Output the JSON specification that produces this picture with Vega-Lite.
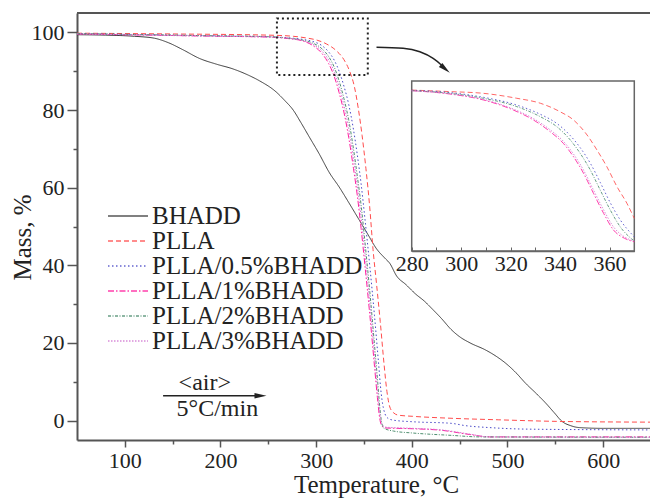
{
  "$schema": "https://vega.github.io/schema/vega-lite/v6.json",
  "width": 573,
  "height": 427,
  "autosize": {"type": "none"},
  "padding": {"left": 77, "top": 13, "right": 0, "bottom": 59},
  "background": "white",
  "config": {
    "view": {"stroke": null},
    "font": "Liberation Serif",
    "axis": {
      "labelFont": "Liberation Serif",
      "titleFont": "Liberation Serif",
      "labelColor": "#222",
      "titleColor": "#222",
      "titleFontWeight": "normal",
      "domainColor": "#555",
      "domainWidth": 2,
      "tickColor": "#555",
      "tickWidth": 1.5,
      "grid": false,
      "labelFontSize": 22,
      "titleFontSize": 25,
      "labelOverlap": false,
      "labelFlush": false
    }
  },
  "datasets": {
    "main": [
      {"s":"BHADD","T":50,"m":99.4},{"s":"BHADD","T":80,"m":99.3},{"s":"BHADD","T":110,"m":99.0},{"s":"BHADD","T":131,"m":98.5},{"s":"BHADD","T":146,"m":97.3},{"s":"BHADD","T":161,"m":95.5},{"s":"BHADD","T":178,"m":93.3},{"s":"BHADD","T":196,"m":91.8},{"s":"BHADD","T":213,"m":90.6},{"s":"BHADD","T":229,"m":89.0},{"s":"BHADD","T":241,"m":87.5},{"s":"BHADD","T":258,"m":84.7},{"s":"BHADD","T":267,"m":82.5},{"s":"BHADD","T":276,"m":80.0},{"s":"BHADD","T":284,"m":76.8},{"s":"BHADD","T":293,"m":73.0},{"s":"BHADD","T":303,"m":68.8},{"s":"BHADD","T":314,"m":63.8},{"s":"BHADD","T":324,"m":60.2},{"s":"BHADD","T":335,"m":55.8},{"s":"BHADD","T":345,"m":51.7},{"s":"BHADD","T":354,"m":48.0},{"s":"BHADD","T":363,"m":44.3},{"s":"BHADD","T":372,"m":41.8},{"s":"BHADD","T":377,"m":40.5},{"s":"BHADD","T":384,"m":37.3},{"s":"BHADD","T":394,"m":35.0},{"s":"BHADD","T":404,"m":32.6},{"s":"BHADD","T":413,"m":30.8},{"s":"BHADD","T":422,"m":28.6},{"s":"BHADD","T":431,"m":26.3},{"s":"BHADD","T":441,"m":23.5},{"s":"BHADD","T":450,"m":21.6},{"s":"BHADD","T":461,"m":20.0},{"s":"BHADD","T":477,"m":18.2},{"s":"BHADD","T":488,"m":16.6},{"s":"BHADD","T":498,"m":14.8},{"s":"BHADD","T":509,"m":12.3},{"s":"BHADD","T":519,"m":9.6},{"s":"BHADD","T":530,"m":7.0},{"s":"BHADD","T":540,"m":4.5},{"s":"BHADD","T":549,"m":2.0},{"s":"BHADD","T":557,"m":-0.2},{"s":"BHADD","T":566,"m":-1.3},{"s":"BHADD","T":575,"m":-1.8},{"s":"BHADD","T":600,"m":-2.0},{"s":"BHADD","T":649,"m":-2.0},

      {"s":"PLLA","T":50,"m":99.8},{"s":"PLLA","T":150,"m":99.6},{"s":"PLLA","T":250,"m":99.3},{"s":"PLLA","T":276,"m":99.0},{"s":"PLLA","T":289,"m":98.6},{"s":"PLLA","T":301,"m":98.0},{"s":"PLLA","T":311,"m":97.0},{"s":"PLLA","T":321,"m":95.3},{"s":"PLLA","T":329,"m":93.0},{"s":"PLLA","T":335,"m":90.0},{"s":"PLLA","T":340,"m":86.0},{"s":"PLLA","T":344,"m":80.5},{"s":"PLLA","T":348,"m":73.5},{"s":"PLLA","T":352,"m":65.0},{"s":"PLLA","T":356,"m":55.0},{"s":"PLLA","T":359.5,"m":44.0},{"s":"PLLA","T":363,"m":35.5},{"s":"PLLA","T":367,"m":25.5},{"s":"PLLA","T":371,"m":14.5},{"s":"PLLA","T":374,"m":7.5},{"s":"PLLA","T":377,"m":3.5},{"s":"PLLA","T":381,"m":2.0},{"s":"PLLA","T":386,"m":1.4},{"s":"PLLA","T":401,"m":1.1},{"s":"PLLA","T":441,"m":0.6},{"s":"PLLA","T":491,"m":0.2},{"s":"PLLA","T":551,"m":-0.2},{"s":"PLLA","T":649,"m":-0.4},

      {"s":"PLLA/0.5%BHADD","T":50,"m":99.7},{"s":"PLLA/0.5%BHADD","T":100,"m":99.5},{"s":"PLLA/0.5%BHADD","T":150,"m":99.3},{"s":"PLLA/0.5%BHADD","T":200,"m":99.1},{"s":"PLLA/0.5%BHADD","T":250,"m":98.9},{"s":"PLLA/0.5%BHADD","T":271,"m":98.6},{"s":"PLLA/0.5%BHADD","T":286,"m":98.2},{"s":"PLLA/0.5%BHADD","T":296,"m":97.7},{"s":"PLLA/0.5%BHADD","T":306,"m":96.6},{"s":"PLLA/0.5%BHADD","T":313,"m":95.0},{"s":"PLLA/0.5%BHADD","T":319,"m":92.8},{"s":"PLLA/0.5%BHADD","T":324,"m":90.0},{"s":"PLLA/0.5%BHADD","T":329,"m":86.2},{"s":"PLLA/0.5%BHADD","T":334,"m":81.5},{"s":"PLLA/0.5%BHADD","T":339,"m":75.0},{"s":"PLLA/0.5%BHADD","T":343,"m":68.5},{"s":"PLLA/0.5%BHADD","T":347,"m":61.0},{"s":"PLLA/0.5%BHADD","T":351,"m":52.0},{"s":"PLLA/0.5%BHADD","T":356,"m":40.0},{"s":"PLLA/0.5%BHADD","T":361,"m":27.0},{"s":"PLLA/0.5%BHADD","T":365,"m":15.5},{"s":"PLLA/0.5%BHADD","T":368,"m":7.0},{"s":"PLLA/0.5%BHADD","T":371,"m":2.5},{"s":"PLLA/0.5%BHADD","T":375,"m":0.6},{"s":"PLLA/0.5%BHADD","T":381,"m":0.1},{"s":"PLLA/0.5%BHADD","T":401,"m":-0.3},{"s":"PLLA/0.5%BHADD","T":441,"m":-0.7},{"s":"PLLA/0.5%BHADD","T":456,"m":-1.3},{"s":"PLLA/0.5%BHADD","T":481,"m":-1.8},{"s":"PLLA/0.5%BHADD","T":521,"m":-2.2},{"s":"PLLA/0.5%BHADD","T":649,"m":-2.4},

      {"s":"PLLA/1%BHADD","T":50,"m":99.6},{"s":"PLLA/1%BHADD","T":100,"m":99.4},{"s":"PLLA/1%BHADD","T":150,"m":99.2},{"s":"PLLA/1%BHADD","T":200,"m":99.0},{"s":"PLLA/1%BHADD","T":250,"m":98.8},{"s":"PLLA/1%BHADD","T":271,"m":98.4},{"s":"PLLA/1%BHADD","T":286,"m":97.8},{"s":"PLLA/1%BHADD","T":296,"m":96.7},{"s":"PLLA/1%BHADD","T":306,"m":94.6},{"s":"PLLA/1%BHADD","T":313,"m":92.0},{"s":"PLLA/1%BHADD","T":319,"m":88.6},{"s":"PLLA/1%BHADD","T":324,"m":84.5},{"s":"PLLA/1%BHADD","T":329,"m":79.5},{"s":"PLLA/1%BHADD","T":334,"m":73.0},{"s":"PLLA/1%BHADD","T":339,"m":65.0},{"s":"PLLA/1%BHADD","T":343,"m":58.0},{"s":"PLLA/1%BHADD","T":347,"m":49.5},{"s":"PLLA/1%BHADD","T":351,"m":40.0},{"s":"PLLA/1%BHADD","T":356,"m":27.5},{"s":"PLLA/1%BHADD","T":361,"m":14.0},{"s":"PLLA/1%BHADD","T":364,"m":6.0},{"s":"PLLA/1%BHADD","T":366.5,"m":0.5},{"s":"PLLA/1%BHADD","T":369,"m":-1.5},{"s":"PLLA/1%BHADD","T":373,"m":-1.9},{"s":"PLLA/1%BHADD","T":401,"m":-2.1},{"s":"PLLA/1%BHADD","T":431,"m":-2.5},{"s":"PLLA/1%BHADD","T":461,"m":-3.6},{"s":"PLLA/1%BHADD","T":481,"m":-4.2},{"s":"PLLA/1%BHADD","T":649,"m":-4.2},

      {"s":"PLLA/2%BHADD","T":50,"m":99.7},{"s":"PLLA/2%BHADD","T":100,"m":99.5},{"s":"PLLA/2%BHADD","T":150,"m":99.3},{"s":"PLLA/2%BHADD","T":200,"m":99.1},{"s":"PLLA/2%BHADD","T":250,"m":98.9},{"s":"PLLA/2%BHADD","T":271,"m":98.5},{"s":"PLLA/2%BHADD","T":286,"m":98.0},{"s":"PLLA/2%BHADD","T":296,"m":97.3},{"s":"PLLA/2%BHADD","T":306,"m":95.8},{"s":"PLLA/2%BHADD","T":313,"m":93.8},{"s":"PLLA/2%BHADD","T":319,"m":91.0},{"s":"PLLA/2%BHADD","T":324,"m":87.5},{"s":"PLLA/2%BHADD","T":329,"m":83.0},{"s":"PLLA/2%BHADD","T":334,"m":77.5},{"s":"PLLA/2%BHADD","T":339,"m":70.0},{"s":"PLLA/2%BHADD","T":343,"m":63.0},{"s":"PLLA/2%BHADD","T":347,"m":55.5},{"s":"PLLA/2%BHADD","T":351,"m":46.0},{"s":"PLLA/2%BHADD","T":356,"m":33.5},{"s":"PLLA/2%BHADD","T":361,"m":19.5},{"s":"PLLA/2%BHADD","T":364,"m":11.0},{"s":"PLLA/2%BHADD","T":366.5,"m":3.5},{"s":"PLLA/2%BHADD","T":368.5,"m":-0.5},{"s":"PLLA/2%BHADD","T":371,"m":-2.0},{"s":"PLLA/2%BHADD","T":381,"m":-2.7},{"s":"PLLA/2%BHADD","T":401,"m":-3.2},{"s":"PLLA/2%BHADD","T":441,"m":-3.8},{"s":"PLLA/2%BHADD","T":471,"m":-4.2},{"s":"PLLA/2%BHADD","T":649,"m":-4.3},

      {"s":"PLLA/3%BHADD","T":50,"m":99.6},{"s":"PLLA/3%BHADD","T":100,"m":99.4},{"s":"PLLA/3%BHADD","T":150,"m":99.2},{"s":"PLLA/3%BHADD","T":200,"m":99.0},{"s":"PLLA/3%BHADD","T":250,"m":98.8},{"s":"PLLA/3%BHADD","T":271,"m":98.5},{"s":"PLLA/3%BHADD","T":286,"m":97.9},{"s":"PLLA/3%BHADD","T":296,"m":97.0},{"s":"PLLA/3%BHADD","T":306,"m":95.2},{"s":"PLLA/3%BHADD","T":313,"m":92.9},{"s":"PLLA/3%BHADD","T":319,"m":89.8},{"s":"PLLA/3%BHADD","T":324,"m":86.0},{"s":"PLLA/3%BHADD","T":329,"m":81.3},{"s":"PLLA/3%BHADD","T":334,"m":75.3},{"s":"PLLA/3%BHADD","T":339,"m":67.5},{"s":"PLLA/3%BHADD","T":343,"m":60.5},{"s":"PLLA/3%BHADD","T":347,"m":52.5},{"s":"PLLA/3%BHADD","T":351,"m":43.0},{"s":"PLLA/3%BHADD","T":356,"m":30.5},{"s":"PLLA/3%BHADD","T":361,"m":16.8},{"s":"PLLA/3%BHADD","T":364,"m":8.5},{"s":"PLLA/3%BHADD","T":366.5,"m":2.0},{"s":"PLLA/3%BHADD","T":369,"m":-1.0},{"s":"PLLA/3%BHADD","T":373,"m":-1.7},{"s":"PLLA/3%BHADD","T":401,"m":-2.0},{"s":"PLLA/3%BHADD","T":431,"m":-2.4},{"s":"PLLA/3%BHADD","T":461,"m":-3.5},{"s":"PLLA/3%BHADD","T":481,"m":-4.2},{"s":"PLLA/3%BHADD","T":649,"m":-4.3}
    ],
    "inset": [
      {"s":"PLLA","T":280,"m":99.36},{"s":"PLLA","T":295.5,"m":99.25},{"s":"PLLA","T":309,"m":99.13},{"s":"PLLA","T":322.5,"m":98.78},{"s":"PLLA","T":332,"m":98.43},{"s":"PLLA","T":340,"m":97.83},{"s":"PLLA","T":345.4,"m":97.25},{"s":"PLLA","T":350.9,"m":96.19},{"s":"PLLA","T":354.9,"m":95.13},{"s":"PLLA","T":358.9,"m":93.95},{"s":"PLLA","T":363,"m":92.54},{"s":"PLLA","T":367,"m":91.37},{"s":"PLLA","T":370,"m":90.3},

      {"s":"PLLA/0.5%BHADD","T":280,"m":99.35},{"s":"PLLA/0.5%BHADD","T":295.5,"m":99.18},{"s":"PLLA/0.5%BHADD","T":309,"m":98.85},{"s":"PLLA/0.5%BHADD","T":322.5,"m":98.3},{"s":"PLLA/0.5%BHADD","T":332,"m":97.65},{"s":"PLLA/0.5%BHADD","T":338.7,"m":97.0},{"s":"PLLA/0.5%BHADD","T":344.1,"m":96.15},{"s":"PLLA/0.5%BHADD","T":348.1,"m":95.3},{"s":"PLLA/0.5%BHADD","T":352.2,"m":94.2},{"s":"PLLA/0.5%BHADD","T":356.2,"m":92.85},{"s":"PLLA/0.5%BHADD","T":360.3,"m":91.4},{"s":"PLLA/0.5%BHADD","T":364.3,"m":90.2},{"s":"PLLA/0.5%BHADD","T":370,"m":89.0},

      {"s":"PLLA/1%BHADD","T":280,"m":99.32},{"s":"PLLA/1%BHADD","T":295.5,"m":99.08},{"s":"PLLA/1%BHADD","T":309,"m":98.66},{"s":"PLLA/1%BHADD","T":321.1,"m":97.95},{"s":"PLLA/1%BHADD","T":329.2,"m":97.25},{"s":"PLLA/1%BHADD","T":336,"m":96.42},{"s":"PLLA/1%BHADD","T":341.3,"m":95.6},{"s":"PLLA/1%BHADD","T":345.4,"m":94.66},{"s":"PLLA/1%BHADD","T":349.5,"m":93.48},{"s":"PLLA/1%BHADD","T":353.5,"m":92.07},{"s":"PLLA/1%BHADD","T":357.6,"m":90.66},{"s":"PLLA/1%BHADD","T":361.6,"m":89.48},{"s":"PLLA/1%BHADD","T":366,"m":88.9},{"s":"PLLA/1%BHADD","T":370,"m":88.65},

      {"s":"PLLA/2%BHADD","T":280,"m":99.32},{"s":"PLLA/2%BHADD","T":295.5,"m":99.13},{"s":"PLLA/2%BHADD","T":309,"m":98.78},{"s":"PLLA/2%BHADD","T":322.5,"m":98.19},{"s":"PLLA/2%BHADD","T":332,"m":97.48},{"s":"PLLA/2%BHADD","T":338.7,"m":96.77},{"s":"PLLA/2%BHADD","T":344.1,"m":95.84},{"s":"PLLA/2%BHADD","T":348.1,"m":94.9},{"s":"PLLA/2%BHADD","T":352.2,"m":93.72},{"s":"PLLA/2%BHADD","T":356.2,"m":92.31},{"s":"PLLA/2%BHADD","T":360.3,"m":90.89},{"s":"PLLA/2%BHADD","T":364.3,"m":89.71},{"s":"PLLA/2%BHADD","T":370,"m":88.7},

      {"s":"PLLA/3%BHADD","T":280,"m":99.3},{"s":"PLLA/3%BHADD","T":295.5,"m":99.1},{"s":"PLLA/3%BHADD","T":309,"m":98.7},{"s":"PLLA/3%BHADD","T":321.1,"m":98.02},{"s":"PLLA/3%BHADD","T":329.2,"m":97.35},{"s":"PLLA/3%BHADD","T":336,"m":96.55},{"s":"PLLA/3%BHADD","T":341.3,"m":95.75},{"s":"PLLA/3%BHADD","T":345.4,"m":94.85},{"s":"PLLA/3%BHADD","T":349.5,"m":93.7},{"s":"PLLA/3%BHADD","T":353.5,"m":92.3},{"s":"PLLA/3%BHADD","T":357.6,"m":90.9},{"s":"PLLA/3%BHADD","T":361.6,"m":89.7},{"s":"PLLA/3%BHADD","T":366,"m":89.0},{"s":"PLLA/3%BHADD","T":370,"m":88.7}
    ],
    "arrow": [
      {"T":363.1,"m":96.16},{"T":390.9,"m":95.9},{"T":408.4,"m":95.0},{"T":422.3,"m":93.3},{"T":430,"m":91.8},{"T":435,"m":90.6}
    ]
  },
  "layer": [
    {
      "layer": [
        {
          "data": {"name": "main"},
          "mark": {"type": "line", "interpolate": "monotone", "strokeWidth": 1},
          "encoding": {
            "x": {
              "field": "T", "type": "quantitative",
              "scale": {"domain": [50, 649], "nice": false, "zero": false},
              "axis": {
                "orient": "bottom",
                "title": "Temperature, °C",
                "values": [100,150,200,250,300,350,400,450,500,550,600],
                "labelExpr": "datum.value % 100 === 0 ? datum.label : ''",
                "tickSize": {"condition": {"test": "datum.value % 100 === 0", "value": 7}, "value": 4},
                "labelPadding": 3,
                "titleX": 299,
                "titleY": 52,
                "titleBaseline": "alphabetic",
                "titleAlign": "center"
              }
            },
            "y": {
              "field": "m", "type": "quantitative",
              "scale": {"domain": [-5, 105], "nice": false, "zero": false},
              "axis": {
                "title": "Mass, %",
                "values": [0,10,20,30,40,50,60,70,80,90,100],
                "labelExpr": "datum.value % 20 === 0 ? datum.label : ''",
                "tickSize": {"condition": {"test": "datum.value % 20 === 0", "value": 10}, "value": 4},
                "labelPadding": 3,
                "titleX": -47,
                "titleY": 224,
                "titleBaseline": "alphabetic",
                "titleAlign": "center",
                "titleAngle": -90
              }
            },
            "color": {
              "field": "s", "type": "nominal",
              "scale": {
                "domain": ["BHADD","PLLA","PLLA/0.5%BHADD","PLLA/1%BHADD","PLLA/2%BHADD","PLLA/3%BHADD"],
                "range": ["#3a3a3a","#ff4c4c","#4a4ac8","#ff1f9f","#4f8f70","#d27ad2"]
              },
              "legend": {"title": null, "orient": "none", "legendX": 30, "legendY": 192, "symbolType": "stroke", "symbolSize": 1600, "symbolStrokeWidth": 1.3, "clipHeight": 22, "rowPadding": 0, "padding": 0, "labelFont": "Liberation Serif", "labelFontSize": 25, "labelColor": "#222", "labelOffset": 3, "labelLimit": 400}
            },
            "strokeDash": {
              "field": "s", "type": "nominal",
              "scale": {
                "domain": ["BHADD","PLLA","PLLA/0.5%BHADD","PLLA/1%BHADD","PLLA/2%BHADD","PLLA/3%BHADD"],
                "range": [[1,0],[5,3],[1.5,2.5],[6,2,1.5,2],[3,1.5,1,1.5],[1.5,1.5]]
              },
              "legend": {"title": null, "orient": "none", "legendX": 30, "legendY": 192, "symbolType": "stroke", "symbolSize": 1600, "symbolStrokeWidth": 1.3, "clipHeight": 22, "rowPadding": 0, "padding": 0, "labelFont": "Liberation Serif", "labelFontSize": 25, "labelColor": "#222", "labelOffset": 3, "labelLimit": 400}
            }
          }
        },
        {
          "data": {"values": [{}]},
          "mark": {"type": "rule", "stroke": "#555", "strokeWidth": 2},
          "encoding": {"x": {"datum": 50}, "x2": {"datum": 649}, "y": {"datum": 105}}
        },
        {
          "data": {"values": [{}]},
          "mark": {"type": "rect", "fill": null, "fillOpacity": 0, "stroke": "#222", "strokeWidth": 2, "strokeDash": [2, 3]},
          "encoding": {"x": {"datum": 259}, "x2": {"datum": 354}, "y": {"datum": 89}, "y2": {"datum": 103.6}}
        },
        {
          "data": {"name": "arrow"},
          "mark": {"type": "line", "interpolate": "monotone", "stroke": "#222", "strokeWidth": 1.5},
          "encoding": {"x": {"field": "T", "type": "quantitative"}, "y": {"field": "m", "type": "quantitative"}}
        },
        {
          "data": {"values": [{}]},
          "mark": {"type": "point", "shape": "M-1,-0.45L1,0L-1,0.45Z", "filled": true, "color": "#222", "opacity": 1, "size": 144, "angle": 40},
          "encoding": {"x": {"datum": 434.9}, "y": {"datum": 90.6}}
        },
        {
          "data": {"values": [{}]},
          "mark": {"type": "rule", "stroke": "#222", "strokeWidth": 1.5},
          "encoding": {"x": {"datum": 140}, "x2": {"datum": 242}, "y": {"datum": 6.4}}
        },
        {
          "data": {"values": [{}]},
          "mark": {"type": "point", "shape": "M-1,-0.45L1,0L-1,0.45Z", "filled": true, "color": "#222", "opacity": 1, "size": 144},
          "encoding": {"x": {"datum": 241.8}, "y": {"datum": 6.4}}
        },
        {
          "data": {"values": [{}]},
          "mark": {"type": "text", "text": "<air>", "font": "Liberation Serif", "fontSize": 24, "color": "#222", "align": "center", "baseline": "alphabetic"},
          "encoding": {"x": {"datum": 183.6}, "y": {"datum": 7.9}}
        },
        {
          "data": {"values": [{}]},
          "mark": {"type": "text", "text": "5°C/min", "font": "Liberation Serif", "fontSize": 24, "color": "#222", "align": "center", "baseline": "alphabetic"},
          "encoding": {"x": {"datum": 196.7}, "y": {"datum": 1.2}}
        }
      ]
    },
    {
      "layer": [
        {
          "data": {"values": [{}]},
          "mark": {"type": "rect", "fill": "white", "stroke": "#666", "strokeWidth": 1.5},
          "encoding": {
            "x": {"datum": 280, "type": "quantitative", "scale": {"domain": [280, 370], "range": [334.7, 557.3], "nice": false, "zero": false},
              "axis": {
                "orient": "bottom", "offset": -189, "title": null,
                "values": [280,290,300,310,320,330,340,350,360,370],
                "labelExpr": "datum.value % 20 === 0 ? datum.label : ''",
                "tickSize": -4, "labelPadding": 6, "zindex": 1,
                "domainColor": "#666", "domainWidth": 1.5, "tickColor": "#666", "tickWidth": 1
              }
            },
            "x2": {"datum": 370},
            "y": {"datum": 88, "type": "quantitative", "scale": {"domain": [88, 100], "range": [238, 68], "nice": false, "zero": false}, "axis": null},
            "y2": {"datum": 100}
          }
        },
        {
          "data": {"name": "inset"},
          "mark": {"type": "line", "interpolate": "monotone", "strokeWidth": 1, "opacity": 0.85},
          "encoding": {
            "x": {"field": "T", "type": "quantitative"},
            "y": {"field": "m", "type": "quantitative"},
            "color": {
              "field": "s", "type": "nominal",
              "scale": {
                "domain": ["BHADD","PLLA","PLLA/0.5%BHADD","PLLA/1%BHADD","PLLA/2%BHADD","PLLA/3%BHADD"],
                "range": ["#3a3a3a","#ff4c4c","#4a4ac8","#ff1f9f","#4f8f70","#d27ad2"]
              },
              "legend": {"title": null, "orient": "none", "legendX": 30, "legendY": 192, "symbolType": "stroke", "symbolSize": 1600, "symbolStrokeWidth": 1.3, "clipHeight": 22, "rowPadding": 0, "padding": 0, "labelFont": "Liberation Serif", "labelFontSize": 25, "labelColor": "#222", "labelOffset": 3, "labelLimit": 400}
            },
            "strokeDash": {
              "field": "s", "type": "nominal",
              "scale": {
                "domain": ["BHADD","PLLA","PLLA/0.5%BHADD","PLLA/1%BHADD","PLLA/2%BHADD","PLLA/3%BHADD"],
                "range": [[1,0],[5,3],[1.5,2.5],[6,2,1.5,2],[3,1.5,1,1.5],[1.5,1.5]]
              },
              "legend": {"title": null, "orient": "none", "legendX": 30, "legendY": 192, "symbolType": "stroke", "symbolSize": 1600, "symbolStrokeWidth": 1.3, "clipHeight": 22, "rowPadding": 0, "padding": 0, "labelFont": "Liberation Serif", "labelFontSize": 25, "labelColor": "#222", "labelOffset": 3, "labelLimit": 400}
            }
          }
        }
      ]
    }
  ],
  "resolve": {"scale": {"x": "independent", "y": "independent"}}
}
